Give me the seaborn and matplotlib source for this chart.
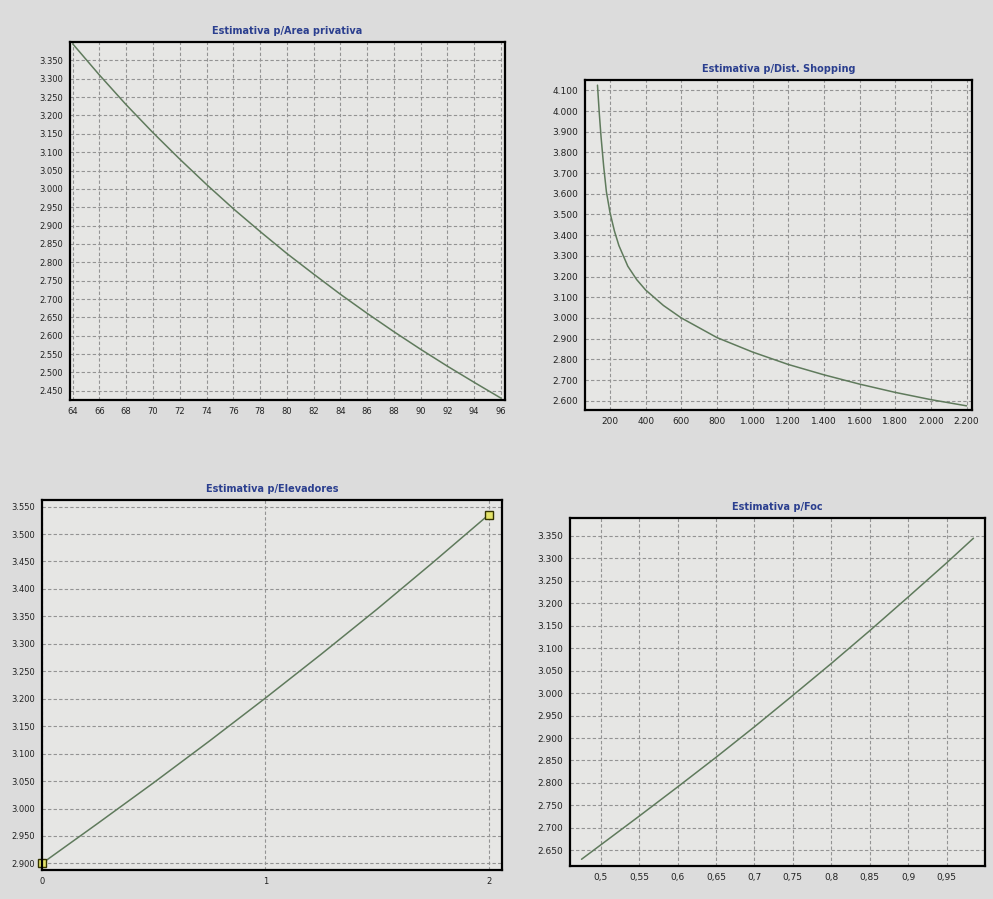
import seaborn as sns
import matplotlib.pyplot as plt
import matplotlib.ticker as mticker
import pandas as pd
import numpy as np

# dados
area_x = [64, 66, 68, 70, 72, 74, 76, 78, 80, 82, 84, 86, 88, 90, 92, 94, 96]
area_y = [3395, 3310, 3229, 3153, 3081, 3012, 2946, 2884, 2824, 2768, 2713,
          2661, 2611, 2563, 2517, 2473, 2430]

shop_x = [130, 140, 150, 165, 180, 200, 225, 250, 300, 350, 400, 500, 600,
          800, 1000, 1200, 1400, 1600, 1800, 2000, 2200]
shop_y = [4125, 3990, 3875, 3730, 3610, 3510, 3420, 3350, 3250, 3185, 3135,
          3060, 3000, 2905, 2835, 2775, 2725, 2680, 2640, 2605, 2575]

elev_x = [0, 0.25, 0.5, 0.75, 1, 1.25, 1.5, 1.75, 2]
elev_y = [2900, 2973, 3047, 3123, 3201, 3281, 3363, 3448, 3535]

foc_x = [0.475, 0.5, 0.55, 0.6, 0.65, 0.7, 0.75, 0.8, 0.85, 0.9, 0.95, 0.985]
foc_y = [2630, 2662, 2726, 2791, 2857, 2925, 2995, 3066, 3139, 3214, 3290, 3345]

titulos = ["Estimativa p/Area privativa", "Estimativa p/Dist. Shopping",
           "Estimativa p/Elevadores", "Estimativa p/Foc"]

sns.set_style("white")
plt.rcParams['font.family'] = ['DejaVu Sans']

page = "#dcdcdc"
panel = "#e6e6e4"
linha = "#5f7a5c"
azul = "#2b3f8f"

fig = plt.figure(figsize=(9.93, 8.99), dpi=100, facecolor=page)
W, H = 993, 899


def eixo(x0, y0, x1, y1):
    return fig.add_axes([x0 / W, 1 - y1 / H, (x1 - x0) / W, (y1 - y0) / H])


def milhar(v, pos):
    return f"{v:,.0f}".replace(",", ".")


def virgula(v, pos):
    return f"{v:.2f}".rstrip("0").rstrip(".").replace(".", ",")


def estilo(ax, titulo, fs):
    ax.set_facecolor(panel)
    for s in ax.spines.values():
        s.set_color("black")
        s.set_linewidth(1.6)
    ax.grid(True, color="#939393", linestyle=(0, (3, 2)), linewidth=0.8)
    ax.tick_params(axis="both", labelsize=fs, length=3, color="#555555",
                   direction="out", pad=2, labelcolor="#222222")
    ax.set_xlabel("")
    ax.set_ylabel("")
    ax.set_title(titulo, color=azul, fontsize=7, fontweight="bold", pad=6)
    ax.yaxis.set_major_formatter(mticker.FuncFormatter(milhar))


# 1 - Area privativa
ax1 = eixo(70, 42, 505, 400)
sns.lineplot(data=pd.DataFrame({"x": area_x, "y": area_y}), x="x", y="y",
             ax=ax1, color=linha, linewidth=1.1)
ax1.set_xlim(63.8, 96.3)
ax1.set_ylim(2425, 3400)
ax1.set_xticks(np.arange(64, 97, 2))
ax1.set_yticks(np.arange(2450, 3351, 50))
estilo(ax1, titulos[0], 6)
ax1.xaxis.set_major_formatter(mticker.FuncFormatter(lambda v, p: f"{v:.0f}"))

# 2 - Dist. Shopping
ax2 = eixo(585, 80, 972, 410)
sns.lineplot(data=pd.DataFrame({"x": shop_x, "y": shop_y}), x="x", y="y",
             ax=ax2, color=linha, linewidth=1.1)
ax2.set_xlim(60, 2230)
ax2.set_ylim(2555, 4150)
ax2.set_xticks(np.arange(200, 2201, 200))
ax2.set_yticks(np.arange(2600, 4101, 100))
estilo(ax2, titulos[1], 6.5)
ax2.xaxis.set_major_formatter(mticker.FuncFormatter(milhar))
ax2.title.set_position((0.5, 0.955))

# 3 - Elevadores
ax3 = eixo(42, 500, 502, 870)
sns.lineplot(data=pd.DataFrame({"x": elev_x, "y": elev_y}), x="x", y="y",
             ax=ax3, color=linha, linewidth=1.1)
ax3.plot([elev_x[0], elev_x[-1]], [elev_y[0], elev_y[-1]], linestyle="none",
         marker="s", markersize=6, markerfacecolor="#e4e36a",
         markeredgecolor="#333300", clip_on=False)
ax3.set_xlim(0, 2.06)
ax3.set_ylim(2888, 3562)
ax3.set_xticks([0, 1, 2])
ax3.set_yticks(np.arange(2900, 3551, 50))
estilo(ax3, titulos[2], 6)
ax3.xaxis.set_major_formatter(mticker.FuncFormatter(lambda v, p: f"{v:.0f}"))

# 4 - Foc
ax4 = eixo(570, 518, 985, 866)
sns.lineplot(data=pd.DataFrame({"x": foc_x, "y": foc_y}), x="x", y="y",
             ax=ax4, color=linha, linewidth=1.1)
ax4.set_xlim(0.46, 1.0)
ax4.set_ylim(2615, 3390)
ax4.set_xticks(np.arange(0.5, 0.951, 0.05))
ax4.set_yticks(np.arange(2650, 3351, 50))
estilo(ax4, titulos[3], 6.5)
ax4.xaxis.set_major_formatter(mticker.FuncFormatter(virgula))

fig.savefig("out.png", dpi=100, facecolor=page)
